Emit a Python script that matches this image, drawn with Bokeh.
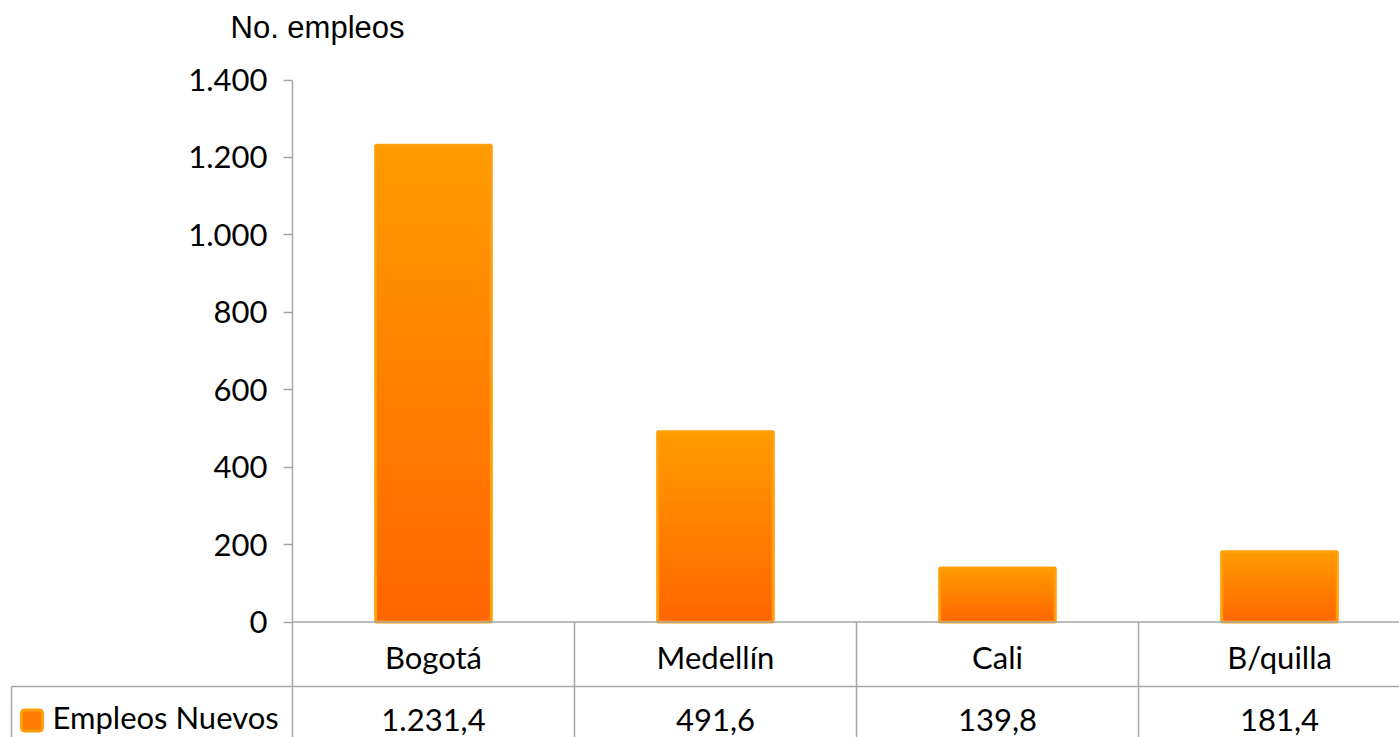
from bokeh.plotting import figure
from bokeh.models import Range1d, LinearAxis, FixedTicker
from bokeh.core.properties import value
from bokeh.embed import file_html
from bokeh.resources import INLINE
import numpy as np

# ---- data ----
categories = ["Bogotá", "Medellín", "Cali", "B/quilla"]
empleos = [1231.4, 491.6, 139.8, 181.4]
value_labels = ["1.231,4", "491,6", "139,8", "181,4"]
series_name = "Empleos Nuevos"
y_title = "No. empleos"
tick_values = [0, 200, 400, 600, 800, 1000, 1200, 1400]
tick_labels = ["0", "200", "400", "600", "800", "1.000", "1.200", "1.400"]

# ---- layout constants (pixels -> data) ----
W, H = 1399, 737
cat_px = 282.0
x0_px = 292.0          # x of axis in figure pixels
ppu = 542.0 / 1400.0   # pixels per unit on y
zero_px = 621.5        # y of zero from figure top
x_start = -x0_px / cat_px
x_end = (W - x0_px) / cat_px
y_end = zero_px / ppu
y_start = -(H - zero_px) / ppu

p = figure(width=W, height=H, output_backend="svg", toolbar_location=None,
           x_range=Range1d(x_start, x_end), y_range=Range1d(y_start, y_end),
           x_axis_location=None, y_axis_location=None, min_border=0)
p.outline_line_color = None
p.xgrid.visible = False
p.ygrid.visible = False
p.background_fill_color = "white"

GRAY = "#a6a6a6"
FONT = "Lato"
FS = "31px"

# gradient bars made of thin overlapping strips
N = 60
top_c = np.array([0xFF, 0x9B, 0x00])
bot_c = np.array([0xFF, 0x66, 0x00])
bw = 0.41
ov = 3.0 / ppu
L, R, B, T, C = [], [], [], [], []
for i, v in enumerate(empleos):
    for k in range(N):
        f = (k + 0.5) / N
        c = bot_c + (top_c - bot_c) * f
        L.append(i + 0.5 - bw / 2)
        R.append(i + 0.5 + bw / 2)
        B.append(v * k / N)
        T.append(min(v, v * (k + 1) / N + ov))
        C.append("#%02x%02x%02x" % tuple(int(round(t)) for t in c))
p.quad(left=L, right=R, bottom=B, top=T, fill_color=C, line_color=None)
xs = [i + 0.5 for i in range(len(categories))]
p.quad(left=[x - bw / 2 for x in xs], right=[x + bw / 2 for x in xs],
       bottom=[0] * len(xs), top=empleos, fill_alpha=0,
       line_color="#ff9f0a", line_width=3)

# y axis at x=0
ax = LinearAxis(fixed_location=0, bounds=(0, 1400),
                ticker=FixedTicker(ticks=tick_values),
                major_label_overrides={t: s for t, s in zip(tick_values, tick_labels)})
ax.axis_line_color = GRAY
ax.axis_line_width = 1.5
ax.major_tick_line_color = GRAY
ax.major_tick_line_width = 1.5
ax.major_tick_out = 9
ax.major_tick_in = 0
ax.minor_tick_line_color = None
ax.major_label_standoff = 16
ax.major_label_text_font = FONT
ax.major_label_text_font_size = FS
ax.major_label_text_color = "black"
p.add_layout(ax, "left")

# data table lines
ncat = len(categories)
left_px = 11.0
row_y = -(686 - zero_px) / ppu
p.segment(x0=[0], y0=[0], x1=[ncat + 0.5], y1=[0], line_color=GRAY, line_width=1.5)
p.segment(x0=[(left_px - x0_px) / cat_px], y0=[row_y], x1=[ncat + 0.5], y1=[row_y],
          line_color=GRAY, line_width=1.5)
p.segment(x0=list(range(ncat)), y0=[0] * ncat, x1=list(range(ncat)), y1=[y_start] * ncat,
          line_color=GRAY, line_width=1.5)
p.segment(x0=[(left_px - x0_px) / cat_px], y0=[row_y], x1=[(left_px - x0_px) / cat_px],
          y1=[y_start], line_color=GRAY, line_width=1.5)

cat_y = -(656 - zero_px) / ppu
val_y = -(719 - zero_px) / ppu
p.text(x=xs, y=[cat_y] * ncat, text=categories, text_align="center",
       text_baseline="middle", text_font=value(FONT), text_font_size=value(FS),
       text_color="black")
p.text(x=xs, y=[val_y] * ncat, text=value_labels, text_align="center",
       text_baseline="middle", text_font=value(FONT), text_font_size=value(FS),
       text_color="black")

# legend key in table
kx = (31.5 - x0_px) / cat_px
p.rect(x=[kx], y=[-(720 - zero_px) / ppu], width=21, height=21, width_units="screen",
       height_units="screen", fill_color="#ff7a00", line_color="#ff9f0a", line_width=3,
       border_radius=3)
p.text(x=[(52 - x0_px) / cat_px], y=[-(716 - zero_px) / ppu], text=[series_name],
       text_align="left", text_baseline="middle", text_font=value(FONT),
       text_font_size=value(FS), text_color="black")

# y title
p.text(x=[(230 - x0_px) / cat_px], y=[(zero_px - 27) / ppu], text=[y_title],
       text_align="left", text_baseline="middle", text_font=value("Liberation Sans"),
       text_font_size=value(FS), text_color="black")

open("out.html", "w").write(file_html(p, INLINE))
